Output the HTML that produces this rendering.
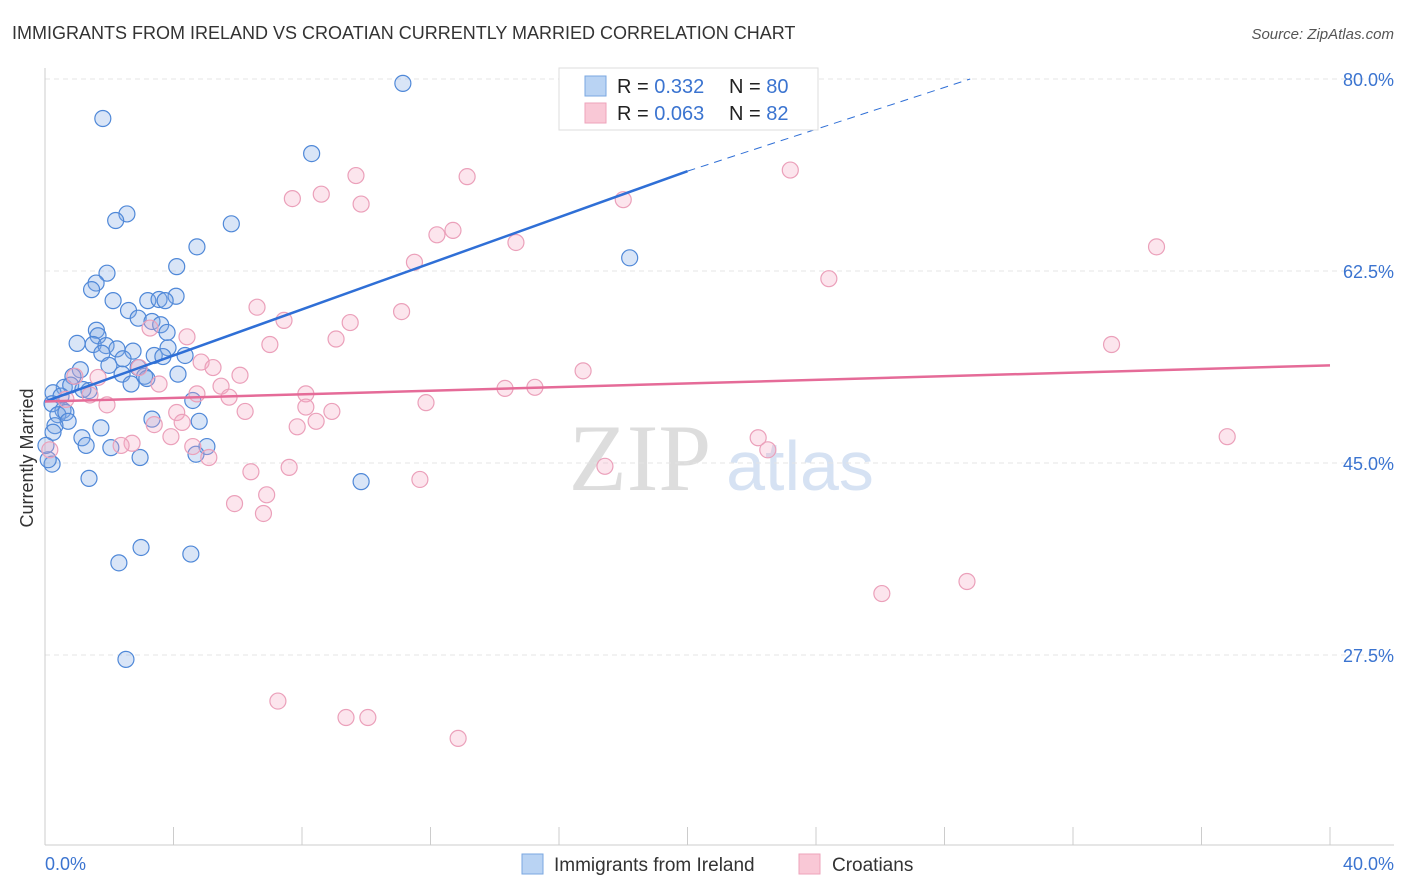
<!DOCTYPE html>
<html><head><meta charset="utf-8"><style>
body{margin:0;background:#fff;font-family:"Liberation Sans",sans-serif;}
svg{display:block}
</style></head><body>
<svg id="c" width="1406" height="892">
<text x="12" y="39" font-size="18" fill="#333">IMMIGRANTS FROM IRELAND VS CROATIAN CURRENTLY MARRIED CORRELATION CHART</text>
<text x="1394" y="39" font-size="15" fill="#555" font-style="italic" text-anchor="end">Source: ZipAtlas.com</text>
<text x="640" y="490" font-size="95" fill="#ddd" font-family="Liberation Serif" text-anchor="middle">ZIP</text>
<text x="800" y="490" font-size="70" fill="#d6e2f3" text-anchor="middle">atlas</text>
<text transform="translate(33,458) rotate(-90)" font-size="18" fill="#333" text-anchor="middle">Currently Married</text>
<g id="grid"></g><g id="pts"></g><g id="lines"></g>
<g>
<rect x="559" y="68" width="259" height="62" fill="#fff" stroke="#ddd"/>
<rect x="585" y="76" width="21" height="20" fill="#b9d3f3" stroke="#7aa7e0"/>
<rect x="585" y="103" width="21" height="20" fill="#f9c8d6" stroke="#eea3bb"/>
<text x="617" y="93" font-size="20" fill="#222">R = <tspan fill="#3b74d0">0.332</tspan><tspan x="729">N = </tspan><tspan fill="#3b74d0">80</tspan></text>
<text x="617" y="120" font-size="20" fill="#222">R = <tspan fill="#3b74d0">0.063</tspan><tspan x="729">N = </tspan><tspan fill="#3b74d0">82</tspan></text>
</g>
<g>
<rect x="522" y="854" width="21" height="20" fill="#b9d3f3" stroke="#7aa7e0"/>
<text x="554" y="871" font-size="19" fill="#333">Immigrants from Ireland</text>
<rect x="799" y="854" width="21" height="20" fill="#f9c8d6" stroke="#eea3bb"/>
<text x="832" y="871" font-size="19" fill="#333">Croatians</text>
</g>
<text x="45" y="870" font-size="18" fill="#3b74d0">0.0%</text>
<text x="1394" y="870" font-size="18" fill="#3b74d0" text-anchor="end">40.0%</text>
</svg>
<script>
const yTicks=[80,62.5,45,27.5];
const yTickLabels=["80.0%","62.5%","45.0%","27.5%"];
const xTicks=[0,4,8,12,16,20,24,28,32,36,40];
const blueX=[11.14,1.8,8.3,2.55,2.2,5.8,4.73,18.2,4.1,1.93,1.59,1.45,4.08,2.12,3.2,3.55,3.74,2.6,2.9,3.33,3.6,1.6,3.8,1.65,1.0,1.5,1.9,3.83,2.24,2.74,1.77,3.4,4.36,3.67,2.43,1.99,2.9,1.1,2.4,3.1,4.14,0.87,3.17,2.68,0.6,0.8,1.37,0.25,0.5,1.18,0.22,4.6,0.56,0.4,0.65,3.33,0.72,4.8,0.31,1.74,0.25,1.15,1.28,5.04,2.05,4.7,2.96,0.22,9.84,1.37,2.99,4.54,2.3,2.52,0.1,0.03];
const blueY=[79.6,76.4,73.2,67.7,67.1,66.8,64.7,63.7,62.9,62.3,61.4,60.8,60.2,59.8,59.8,59.9,59.8,58.9,58.2,57.9,57.6,57.1,56.9,56.6,55.9,55.8,55.7,55.5,55.4,55.2,55.0,54.8,54.8,54.7,54.5,53.9,53.7,53.5,53.1,52.9,53.1,52.9,52.7,52.2,51.9,52.1,51.6,51.4,51.1,51.7,50.4,50.7,49.8,49.4,49.6,49.0,48.8,48.8,48.4,48.2,47.8,47.3,46.6,46.5,46.4,45.8,45.5,44.9,43.3,43.6,37.3,36.7,35.9,27.1,45.3,46.6];
const pinkX=[23.2,9.68,13.14,8.6,7.7,9.84,18.0,12.7,12.2,14.66,34.6,11.5,24.4,6.6,11.1,7.44,9.5,3.27,4.42,9.06,7.0,33.2,4.86,5.23,2.93,16.75,6.07,1.65,3.55,5.48,15.25,14.32,8.12,5.73,4.73,1.4,0.65,1.93,11.86,8.12,6.23,8.93,4.1,4.27,3.4,8.44,7.85,3.92,22.2,36.8,2.71,4.6,2.37,22.5,5.1,7.6,17.43,6.41,11.67,6.9,5.9,6.8,28.7,26.05,7.25,9.37,10.05,12.86,0.15,0.93];
const pinkY=[71.7,71.2,71.1,69.5,69.1,68.6,69.0,66.2,65.8,65.1,64.7,63.3,61.8,59.2,58.8,58.0,57.8,57.3,56.5,56.3,55.8,55.8,54.2,53.7,53.7,53.4,53.0,52.8,52.2,52.0,51.9,51.8,51.3,51.0,51.3,51.2,50.8,50.3,50.5,50.1,49.7,49.7,49.6,48.7,48.5,48.8,48.3,47.4,47.3,47.4,46.8,46.5,46.6,46.2,45.5,44.6,44.7,44.2,43.5,42.1,41.3,40.4,34.2,33.1,23.3,21.8,21.8,19.9,46.2,52.9];
const blueTrend=[[0,50.6],[20,71.6],[28.8,80]];
const pinkTrend=[[0,50.6],[40,53.9]];
const X=v=>45+v*32.125, Y=v=>79+(80-v)*192/17.5;
const NS="http://www.w3.org/2000/svg";
function mk(p,t,a){const e=document.createElementNS(NS,t);for(const k in a)e.setAttribute(k,a[k]);p.appendChild(e);return e;}
const grid=document.getElementById('grid');
yTicks.forEach((t,i)=>{
 const l=mk(grid,'line',{x1:45,x2:1394,y1:Y(t),y2:Y(t),stroke:'#e4e4e4','stroke-dasharray':'5,4'});
 
 
 const tx=mk(grid,'text',{x:1394,y:Y(t)+7,'font-size':18,fill:'#3b74d0','text-anchor':'end'});
 tx.textContent=yTickLabels[i];
 
 
});
mk(grid,'line',{x1:45,x2:45,y1:68,y2:845,stroke:'#ccc'});
mk(grid,'line',{x1:45,x2:1394,y1:845,y2:845,stroke:'#ccc'});
xTicks.forEach(t=>{
 const l=mk(grid,'line',{x1:X(t),x2:X(t),y1:827,y2:845,stroke:'#ccc'});
 
 
});
const pts=document.getElementById('pts');
blueX.forEach((x,i)=>{
 const c=mk(pts,'circle',{cx:X(x),cy:Y(blueY[i]),r:8,fill:'rgba(130,170,230,0.3)',stroke:'#4f88d8','stroke-width':1.2});
 
 
});
pinkX.forEach((x,i)=>{
 const c=mk(pts,'circle',{cx:X(x),cy:Y(pinkY[i]),r:8,fill:'rgba(245,170,195,0.3)',stroke:'#eba0ba','stroke-width':1.2});
 
 
});
const lines=document.getElementById('lines');
let b=mk(lines,'line',{x1:X(blueTrend[0][0]),y1:Y(blueTrend[0][1]),x2:X(blueTrend[1][0]),y2:Y(blueTrend[1][1]),stroke:'#2f6fd6','stroke-width':2.5});


b=mk(lines,'line',{x1:X(blueTrend[1][0]),y1:Y(blueTrend[1][1]),x2:X(blueTrend[2][0]),y2:Y(blueTrend[2][1]),stroke:'#2f6fd6','stroke-width':1,'stroke-dasharray':'8,6'});


const p=mk(lines,'line',{x1:X(pinkTrend[0][0]),y1:Y(pinkTrend[0][1]),x2:X(pinkTrend[1][0]),y2:Y(pinkTrend[1][1]),stroke:'#e56b98','stroke-width':2.5});


</script>
</body></html>
